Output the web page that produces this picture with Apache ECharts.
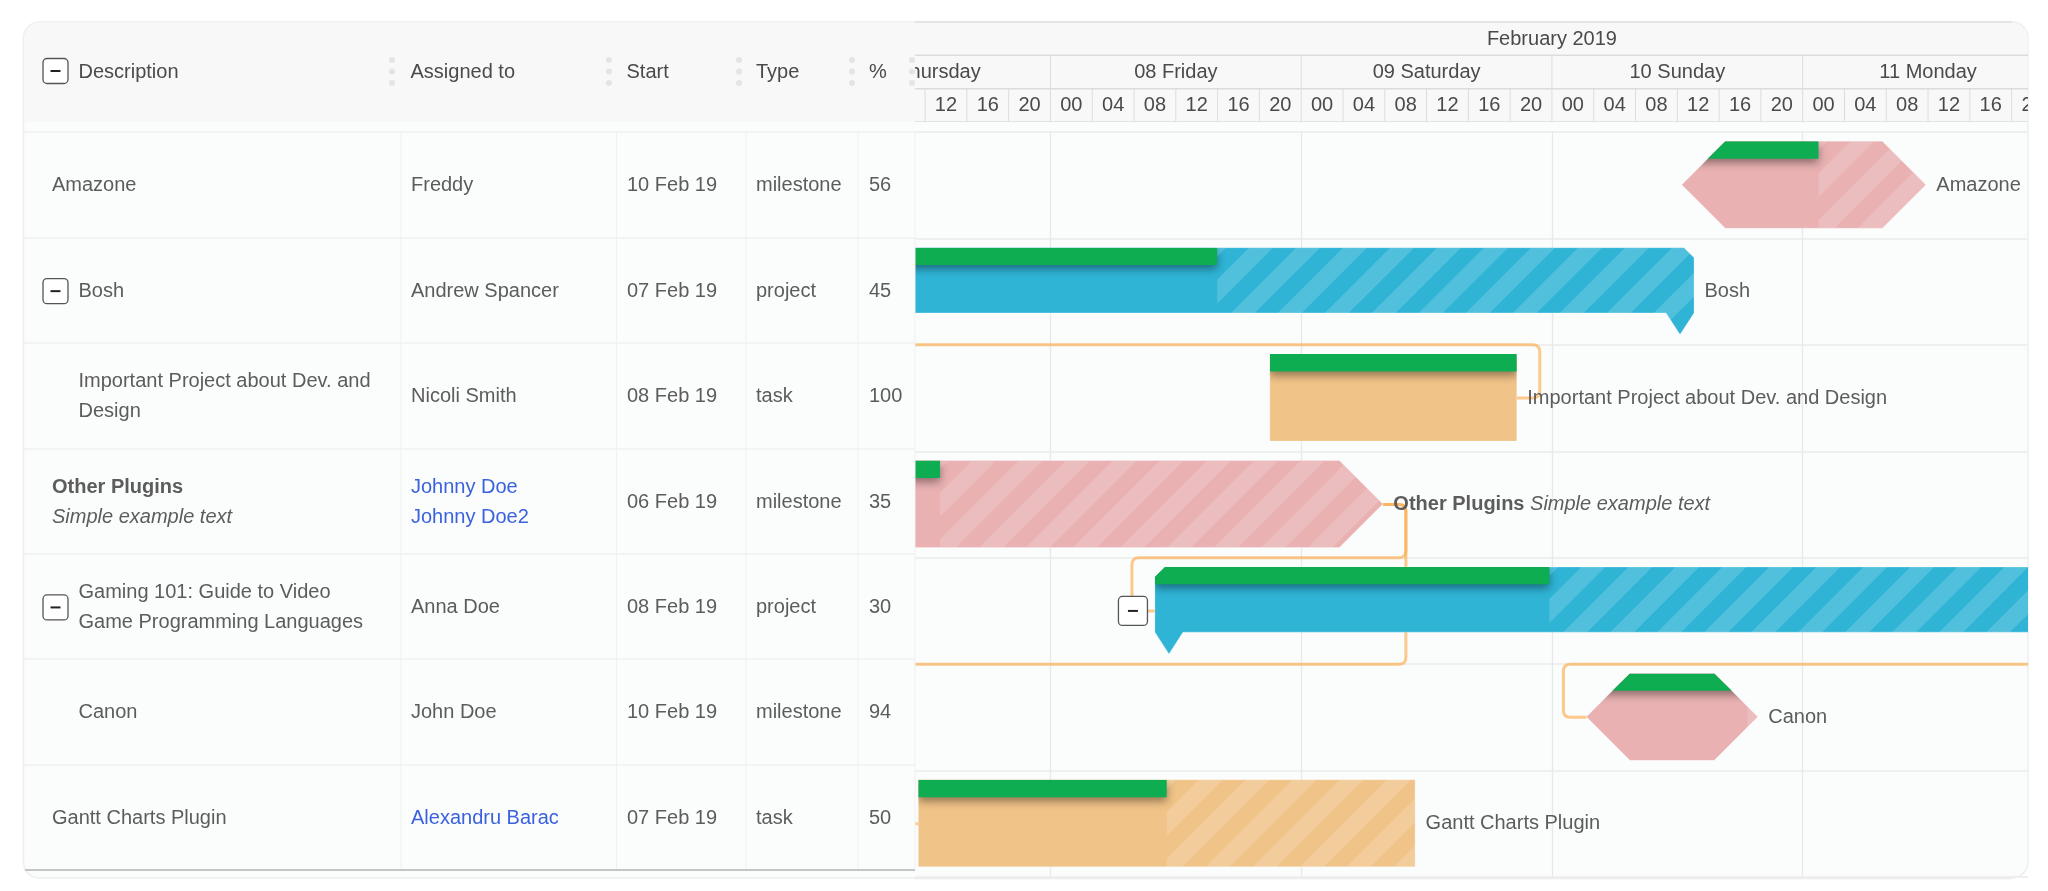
<!DOCTYPE html>
<html>
<head>
<meta charset="utf-8">
<style>
  html, body { margin: 0; padding: 0; background: #fff; }
  #main { width: 2048px; height: 891px; }
</style>
<script src="https://cdn.jsdelivr.net/npm/echarts@6/dist/echarts.min.js"></script>
</head>
<body>
<div id="main"></div>
<script>
// chart data
const taskNames = ['Amazone', 'Bosh', 'Important Project about Dev. and Design', 'Other Plugins', 'Gaming 101: Guide to Video Game Programming Languages', 'Canon', 'Gantt Charts Plugin'];
const tableNames = ['Amazone', 'Bosh', 'Important Project about Dev. and\nDesign', 'Other Plugins', 'Gaming 101: Guide to Video\nGame Programming Languages', 'Canon', 'Gantt Charts Plugin'];
const taskNotes = ['', '', '', 'Simple example text', '', '', ''];
const assignees = ['Freddy', 'Andrew Spancer', 'Nicoli Smith', 'Johnny Doe\nJohnny Doe2', 'Anna Doe', 'John Doe', 'Alexandru Barac'];
const linkedAssignees = ['Johnny Doe\nJohnny Doe2', 'Alexandru Barac'];
const startLabels = ['10 Feb 19', '07 Feb 19', '08 Feb 19', '06 Feb 19', '08 Feb 19', '10 Feb 19', '07 Feb 19'];
const taskTypes = ['milestone', 'project', 'task', 'milestone', 'project', 'milestone', 'task'];
const progress = [56, 45, 100, 35, 30, 94, 50];
const childTasks = ['Important Project about Dev. and Design', 'Canon'];
const startTimes = ['2019-02-10T12:26Z', '2019-02-07T02:36Z', '2019-02-08T21:00Z', '2019-02-06T14:36Z', '2019-02-08T10:00Z', '2019-02-10T03:18Z', '2019-02-07T11:21Z'];
const endTimes = ['2019-02-11T11:47Z', '2019-02-10T13:36Z', '2019-02-09T20:38Z', '2019-02-09T07:49Z', '2019-02-13T15:50Z', '2019-02-10T19:42Z', '2019-02-09T10:54Z'];

// dependencies: SF = start of source to end of target, FS = end of source to start of target
const linkFrom = ['Bosh', 'Other Plugins', 'Other Plugins', 'Gaming 101: Guide to Video Game Programming Languages'];
const linkTo = ['Important Project about Dev. and Design', 'Gaming 101: Guide to Video Game Programming Languages', 'Gantt Charts Plugin', 'Canon'];
const linkKinds = ['SF', 'FS', 'FS', 'FS'];
// the horizontal run of a link follows the top edge of this row
const linkLaneRows = [2, 4, 5, 5];

const headerLabels = ['Description', 'Assigned to', 'Start', 'Type', '%'];
const monthLabel = 'February 2019';
const dayLabels = ['07 Thursday', '08 Friday', '09 Saturday', '10 Sunday', '11 Monday'];
const dayStarts = ['2019-02-07T00:00Z', '2019-02-08T00:00Z', '2019-02-09T00:00Z', '2019-02-10T00:00Z', '2019-02-11T00:00Z'];
const hourLabels = ['00', '04', '08', '12', '16', '20'];

const HOUR = 3600000;
const DAY = 24 * HOUR;
const axisMin = Date.parse('2019-02-07T11:02Z');
const axisMax = Date.parse('2019-02-11T21:34Z');

const FONT = '"Liberation Sans", Arial, sans-serif';
const TEXT = '#5c5c5c';
const BLUE_LINK = '#3b62de';
const GREEN = '#0fad52';
const barColors = { task: '#f0c388', project: '#2fb4d6', milestone: '#e9b1b2' };

// table columns, px from the left edge of the table grid
const columnLines = [377, 592.5, 722, 834, 891];
const columnText = [387, 603, 732, 845];
const headerText = [54.5, 386.5, 602.5, 732, 845];
const gripX = [368, 585, 715, 828, 888];

function textEl(x, y, text, extra) {
    return {
        type: 'text',
        style: Object.assign({ x: x, y: y, text: text, fill: TEXT, fontSize: 20, fontFamily: FONT, align: 'left', verticalAlign: 'middle', lineHeight: 30 }, extra)
    };
}

function buttonEl(cx, cy, size) {
    const half = size / 2;
    return {
        type: 'group',
        children: [
            { type: 'rect', shape: { x: cx - half, y: cy - half, width: size, height: size, r: 4 }, style: { fill: '#fff', stroke: '#555', lineWidth: 1.3 } },
            { type: 'line', shape: { x1: cx - 5, y1: cy, x2: cx + 5, y2: cy }, style: { stroke: '#222', lineWidth: 2 } }
        ]
    };
}

function roundedPath(pts, r) {
    let d = 'M' + pts[0][0] + ' ' + pts[0][1];
    for (let i = 1; i < pts.length - 1; i++) {
        const p = pts[i], a = pts[i - 1], b = pts[i + 1];
        const la = Math.hypot(a[0] - p[0], a[1] - p[1]), lb = Math.hypot(b[0] - p[0], b[1] - p[1]);
        const ra = Math.min(r, la / 2), rb = Math.min(r, lb / 2);
        const x1 = p[0] + (a[0] - p[0]) / (la || 1) * ra, y1 = p[1] + (a[1] - p[1]) / (la || 1) * ra;
        const x2 = p[0] + (b[0] - p[0]) / (lb || 1) * rb, y2 = p[1] + (b[1] - p[1]) / (lb || 1) * rb;
        d += 'L' + x1 + ' ' + y1 + 'Q' + p[0] + ' ' + p[1] + ' ' + x2 + ' ' + y2;
    }
    const last = pts[pts.length - 1];
    return d + 'L' + last[0] + ' ' + last[1];
}

function barShape(type, x0, x1, top, h) {
    if (type === 'milestone') {
        const c = h / 2;
        return [[x0 + c, top], [x1 - c, top], [x1, top + c], [x1 - c, top + h], [x0 + c, top + h], [x0, top + c]];
    }
    if (type === 'project') {
        const body = top + h * 0.75;
        const cut = 10, tip = 28;
        return [[x0 + cut, top], [x1 - cut, top], [x1, top + cut], [x1, body], [x1 - tip / 2, top + h], [x1 - tip, body],
            [x0 + tip, body], [x0 + tip / 2, top + h], [x0, body], [x0, top + cut]];
    }
    return [[x0, top], [x1, top], [x1, top + h], [x0, top + h]];
}

// keep the part of a polygon to the right of xMin
function clipRight(points, xMin) {
    const out = [];
    points.forEach(function (p, i) {
        const q = points[(i + 1) % points.length];
        if (p[0] >= xMin) out.push(p);
        if ((p[0] >= xMin) !== (q[0] >= xMin)) {
            const t = (xMin - p[0]) / (q[0] - p[0]);
            out.push([xMin, p[1] + (q[1] - p[1]) * t]);
        }
    });
    return out;
}

function stripePath(px, x1, top, h) {
    const period = 47, band = 24, phase = 32;
    let d = '';
    for (let s = phase - period; px + s - h < x1; s += period) {
        // 45 degree band: x + (y - top) between px + s and px + s + band
        const a = px + s, b = a + band;
        const poly = clipRight([[a, top], [b, top], [b - h, top + h], [a - h, top + h]], px);
        if (poly.length > 2) {
            d += 'M' + poly.map(function (p) { return p[0] + ' ' + p[1]; }).join('L') + 'Z';
        }
    }
    return d;
}

function renderTableRow(params, api) {
    const i = api.value(0);
    const band = api.size([0, 1])[1];
    const rowCenter = api.coord([0, i])[1];
    const rowTop = rowCenter - band / 2;
    const rowBottom = rowTop + band;
    const cy = rowCenter + 1;
    const x = function (v) { return api.coord([v, i])[0]; };
    const children = columnLines.map(function (c) {
        return { type: 'line', shape: { x1: x(c), y1: rowTop, x2: x(c), y2: rowBottom }, style: { stroke: '#f0f0f0', lineWidth: 1 } };
    });
    const isProject = taskTypes[i] === 'project';
    const indent = isProject || childTasks.indexOf(taskNames[i]) >= 0;
    const nameX = x(indent ? 54.5 : 28);
    if (isProject) children.push(buttonEl(x(31.5), cy, 25));
    if (taskNotes[i]) {
        children.push(textEl(nameX, cy, '{b|' + tableNames[i] + '}\n{i|' + taskNotes[i] + '}', {
            rich: {
                b: { fontWeight: 'bold', fontSize: 20, fontFamily: FONT, fill: TEXT, lineHeight: 30 },
                i: { fontStyle: 'italic', fontSize: 20, fontFamily: FONT, fill: TEXT, lineHeight: 30 }
            }
        }));
    } else {
        children.push(textEl(nameX, cy, tableNames[i]));
    }
    const linked = linkedAssignees.indexOf(assignees[i]) >= 0;
    children.push(textEl(x(columnText[0]), cy, assignees[i], linked ? { fill: BLUE_LINK } : {}));
    children.push(textEl(x(columnText[1]), cy, startLabels[i]));
    children.push(textEl(x(columnText[2]), cy, taskTypes[i]));
    children.push(textEl(x(columnText[3]), cy, String(progress[i])));
    return { type: 'group', children: children };
}

function renderHeaderCell(params, api) {
    const cell = headerCells[params.dataIndex];
    const x0 = api.coord([cell[0], 0])[0];
    const x1 = api.coord([cell[1], 0])[0];
    const row = cell[2];
    const cy = api.coord([0, row])[1];
    const h = api.size([0, 1])[1];
    const labelX = api.coord([cell[3], 0])[0];
    return {
        type: 'group',
        children: [
            { type: 'line', shape: { x1: x0, y1: cy - h / 2, x2: x0, y2: cy + h / 2 }, style: { stroke: row === 0 ? 'transparent' : '#dcdcdc', lineWidth: 1 } },
            { type: 'line', shape: { x1: x0, y1: cy + h / 2, x2: x1, y2: cy + h / 2 }, style: { stroke: '#dcdcdc', lineWidth: 1.5 } },
            textEl(labelX, row === 0 ? cy + 1 : cy, cell[4], { align: 'center', fill: '#4a4a4a' })
        ]
    };
}

function taskPos(api, i) {
    return {
        x0: api.coord([Date.parse(startTimes[i]), i])[0],
        x1: api.coord([Date.parse(endTimes[i]), i])[0],
        cy: api.coord([0, i])[1],
        band: api.size([0, 1])[1]
    };
}

function renderLink(params, api) {
    const n = api.value(0);
    const from = taskPos(api, taskNames.indexOf(linkFrom[n]));
    const to = taskPos(api, taskNames.indexOf(linkTo[n]));
    const lanePos = taskPos(api, linkLaneRows[n]);
    const gap = 23;
    const kind = linkKinds[n];
    const sx = kind === 'SF' ? from.x0 : from.x1;
    const ox = kind === 'SF' ? sx - gap : sx + gap;
    const tx = kind === 'SF' ? to.x1 : to.x0;
    const ix = kind === 'SF' ? tx + gap : tx - gap;
    const lane = lanePos.cy - lanePos.band / 2;
    return {
        type: 'path',
        shape: { pathData: roundedPath([[sx, from.cy], [ox, from.cy], [ox, lane], [ix, lane], [ix, to.cy], [tx, to.cy]], 7) },
        style: { fill: 'none', stroke: 'rgba(251,170,70,0.62)', lineWidth: 3 }
    };
}

function renderBar(params, api) {
    const i = api.value(0);
    const pos = taskPos(api, i);
    const h = pos.band * 0.817;
    const top = pos.cy - h / 2 - 0.5;
    const type = taskTypes[i];
    const shape = barShape(type, pos.x0, pos.x1, top, h);
    const px = pos.x0 + (pos.x1 - pos.x0) * progress[i] / 100;
    const clip = { type: 'polygon', shape: { points: shape } };
    const children = [{ type: 'polygon', shape: { points: shape }, style: { fill: barColors[type] } }];
    if (progress[i] < 100) {
        children.push({
            type: 'path',
            shape: { pathData: stripePath(px, pos.x1, top, h) },
            style: { fill: 'rgba(255,255,255,0.16)' },
            clipPath: clip
        });
    }
    // thin light edge around the bar
    children.push({ type: 'polygon', shape: { points: shape }, style: { fill: 'none', stroke: 'rgba(255,255,255,0.25)', lineWidth: 1 } });
    children.push({
        type: 'rect',
        shape: { x: pos.x0, y: top, width: px - pos.x0, height: h * 0.2 },
        style: { fill: GREEN, shadowBlur: 9, shadowColor: 'rgba(0,0,0,0.4)', shadowOffsetY: 4 },
        clipPath: clip
    });
    if (type === 'project') children.push(buttonEl(pos.x0 - 22, pos.cy, 29));
    const labelX = pos.x1 + 10.5;
    if (taskNotes[i]) {
        children.push(textEl(labelX, pos.cy, '{b|' + taskNames[i] + '} {i|' + taskNotes[i] + '}', {
            rich: {
                b: { fontWeight: 'bold', fontSize: 20, fontFamily: FONT, fill: TEXT },
                i: { fontStyle: 'italic', fontSize: 20, fontFamily: FONT, fill: TEXT }
            }
        }));
    } else {
        children.push(textEl(labelX, pos.cy, taskNames[i]));
    }
    return { type: 'group', children: children };
}

// month, day and hour cells of the timeline header: start, end, row, label position, label
const headerCells = [[Date.parse('2019-02-01T00:00Z'), Date.parse('2019-03-01T00:00Z'), 0, Date.parse('2019-02-10T00:00Z'), monthLabel]];
dayStarts.forEach(function (d, i) {
    const t = Date.parse(d);
    headerCells.push([t, t + DAY, 1, t + DAY / 2, dayLabels[i]]);
    hourLabels.forEach(function (h, j) {
        const s = t + j * 4 * HOUR;
        headerCells.push([s, s + 4 * HOUR, 2, s + 2 * HOUR, h]);
    });
});

const headerGraphics = [];
headerLabels.forEach(function (label, i) {
    headerGraphics.push({ type: 'text', z: 6, style: { x: headerText[i] + 24, y: 72, text: label, fill: '#4a4a4a', fontSize: 20, fontFamily: FONT, align: 'left', verticalAlign: 'middle' } });
});
gripX.forEach(function (g) {
    [60, 71.5, 83].forEach(function (y) {
        headerGraphics.push({ type: 'circle', z: 6, shape: { cx: g + 24, cy: y, r: 3 }, style: { fill: '#e4e4e4' } });
    });
});

const chart = echarts.init(document.getElementById('main'));
chart.setOption({
    animation: false,
    useUTC: true,
    textStyle: { fontFamily: FONT },
    graphic: [
        { type: 'rect', z: -2, shape: { x: 23.5, y: 22, width: 2004.5, height: 856, r: 16 }, style: { fill: '#fbfcfc', stroke: '#eeeeee', lineWidth: 1.5 } },
        { type: 'rect', z: -1, shape: { x: 24, y: 22.5, width: 2003.5, height: 99.5, r: [16, 16, 0, 0] }, style: { fill: '#f8f8f8' } },
        { type: 'line', z: -1, shape: { x1: 915, y1: 22, x2: 2012, y2: 22 }, style: { stroke: '#e4e4e4', lineWidth: 2 } },
        { type: 'line', z: -1, shape: { x1: 915, y1: 878, x2: 2012, y2: 878 }, style: { stroke: '#ebebeb', lineWidth: 2.5 } },
        { type: 'line', z: 6, shape: { x1: 25, y1: 870, x2: 915, y2: 870 }, style: { stroke: '#b4b4b4', lineWidth: 1.5 } },
        Object.assign(buttonEl(55.5, 71, 25), { z: 6 })
    ].concat(headerGraphics),
    grid: [
        { left: 24, top: 132, width: 891, height: 738 },
        { left: 915, top: 132, width: 1113, height: 745 },
        { left: 915, top: 22, width: 1113, height: 100 }
    ],
    xAxis: [
        { gridIndex: 0, type: 'value', min: 0, max: 891, axisLine: { show: false }, axisTick: { show: false }, axisLabel: { show: false }, splitLine: { show: false } },
        {
            gridIndex: 1, type: 'time', min: axisMin, max: axisMax, minInterval: DAY, maxInterval: DAY,
            axisLine: { show: false }, axisTick: { show: false }, axisLabel: { show: false },
            splitLine: { show: true, showMinLine: false, showMaxLine: false, lineStyle: { color: '#e8e8e8', width: 1.3 } }
        },
        { gridIndex: 2, type: 'time', min: axisMin, max: axisMax, axisLine: { show: false }, axisTick: { show: false }, axisLabel: { show: false }, splitLine: { show: false } }
    ],
    yAxis: [
        {
            gridIndex: 0, type: 'category', inverse: true, data: taskNames,
            axisLine: { show: false }, axisTick: { show: false }, axisLabel: { show: false },
            splitLine: { show: true, interval: 0, lineStyle: { color: '#f0f0f0', width: 1.5 } }
        },
        {
            gridIndex: 1, type: 'category', inverse: true, data: taskNames,
            axisLine: { show: false }, axisTick: { show: false }, axisLabel: { show: false },
            splitLine: { show: true, interval: 0, lineStyle: { color: '#efefef', width: 2 } }
        },
        { gridIndex: 2, type: 'category', inverse: true, data: ['month', 'day', 'hour'], axisLine: { show: false }, axisTick: { show: false }, axisLabel: { show: false }, splitLine: { show: false } }
    ],
    series: [
        {
            type: 'custom', xAxisIndex: 0, yAxisIndex: 0, clip: false, silent: true, z: 4,
            encode: { x: 1, y: 0 },
            data: taskNames.map(function (n, i) { return [i, 0]; }),
            renderItem: renderTableRow
        },
        {
            type: 'custom', xAxisIndex: 2, yAxisIndex: 2, clip: true, silent: true, z: 3,
            encode: { x: [0, 1], y: 2 },
            data: headerCells.map(function (c) { return [c[0], c[1], c[2]]; }),
            renderItem: renderHeaderCell
        },
        {
            type: 'custom', xAxisIndex: 1, yAxisIndex: 1, clip: true, silent: true, z: 2,
            data: linkFrom.map(function (n, i) { return [i]; }),
            encode: { x: -1, y: -1 },
            renderItem: renderLink
        },
        {
            type: 'custom', xAxisIndex: 1, yAxisIndex: 1, clip: true, silent: true, z: 3,
            data: taskNames.map(function (n, i) { return [i]; }),
            encode: { x: -1, y: -1 },
            renderItem: renderBar
        }
    ]
});
</script>
</body>
</html>
